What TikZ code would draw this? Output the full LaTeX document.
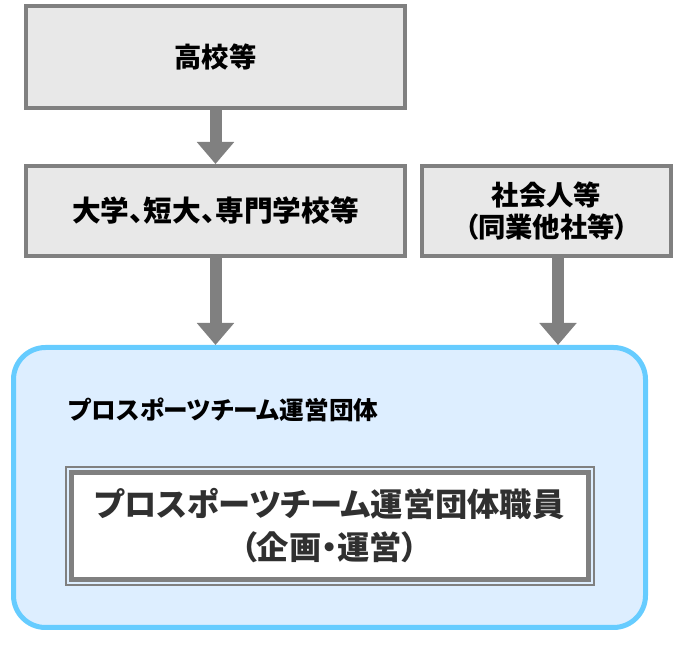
\documentclass[tikz,border=0pt]{standalone}
\usepackage{fontspec}
\setmainfont[RawFeature=+palt]{Noto Sans CJK JP}
\usetikzlibrary{positioning,arrows.meta}
\definecolor{boxgray}{HTML}{E8E8E8}
\definecolor{linegray}{HTML}{808080}
\definecolor{teamfill}{HTML}{DDEEFF}
\definecolor{teamline}{HTML}{66CCFF}
\definecolor{textgray}{HTML}{303030}
\begin{document}
\begin{tikzpicture}[x=0.75pt, y=-0.75pt,
    box/.style={draw=linegray, fill=boxgray, line width=3pt, minimum width=284.25pt,
        minimum height=67.5pt, align=center, font=\fontsize{20.5}{23.5}\selectfont\bfseries},
    flow/.style={draw=linegray, line width=9pt, -{Triangle[width=27pt,length=16.5pt]}}]
                \useasboundingbox (0,0) rectangle (679,648);
                \node[box, minimum height=76.5pt] (hs) at (215.5,57) {高校等};
                \node[box, below=40.5pt of hs, font=\fontsize{21.5}{23.5}\selectfont\bfseries] (uni) {大学、短大、専門学校等};
                \node[box, right=9.75pt of uni, minimum width=186.75pt] (soc) {社会人等\\（同業他社等）};
                \node[draw=teamline, fill=teamfill, line width=3.75pt, rounded corners=24pt,
                    minimum width=474pt, minimum height=210pt] (team) at (329.5,487.5) {};
                \node[anchor=west, font=\fontsize{18.5}{24}\selectfont\bfseries] (teamlabel) at (64,410) {プロスポーツチーム運営団体};
                \node[draw=linegray, line width=1.5pt, minimum width=396pt, minimum height=88.5pt] (frame) at (329.5,526) {};
                \node[draw=linegray, fill=white, line width=3.75pt, minimum width=387.75pt, minimum height=80.25pt,
                    align=center, text=textgray, font=\fontsize{24.2}{32.25}\selectfont\bfseries] (staff) at (frame)
                    {プロスポーツチーム運営団体職員\\（企画・運営）};
                \draw[flow] (hs) -- (uni);
                \draw[flow] (uni.south) -- (uni.south |- team.north);
                \draw[flow] ([xshift=8.625pt]soc.south) -- ([xshift=8.625pt]soc.south |- team.north);
            \end{tikzpicture}
\end{document}
